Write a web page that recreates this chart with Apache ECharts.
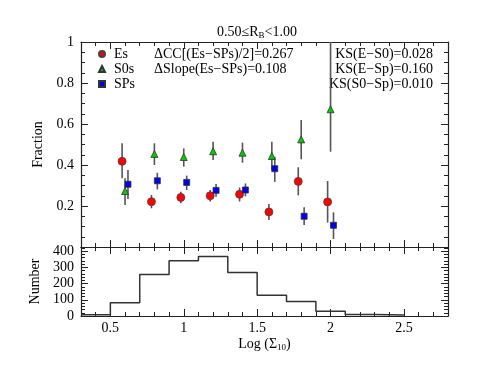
<!DOCTYPE html>
<html>
<head>
<meta charset="utf-8">
<script src="https://cdn.jsdelivr.net/npm/echarts@6/dist/echarts.min.js"></script>
<style>
  html, body { margin: 0; padding: 0; background: #fff; }
  #chart { width: 496px; height: 383px; }
</style>
</head>
<body>
<div id="chart"></div>
<script>
// fraction per density bin (value, lower and upper end of error bar)
const esX = [0.58, 0.78, 0.98, 1.18, 1.38, 1.58, 1.78, 1.98];
const esFrac = [0.418, 0.221, 0.242, 0.250, 0.257, 0.171, 0.320, 0.220];
const esLow = [0.335, 0.189, 0.213, 0.222, 0.222, 0.132, 0.252, 0.119];
const esHigh = [0.506, 0.254, 0.270, 0.278, 0.290, 0.210, 0.389, 0.322];

const s0X = [0.60, 0.80, 1.00, 1.20, 1.40, 1.60, 1.80, 2.00];
const s0Frac = [0.273, 0.454, 0.439, 0.467, 0.460, 0.444, 0.525, 0.672];
const s0Low = [0.205, 0.400, 0.392, 0.424, 0.411, 0.376, 0.428, 0.465];
const s0High = [0.335, 0.506, 0.481, 0.514, 0.509, 0.514, 0.620, 1.000];

const spX = [0.62, 0.82, 1.02, 1.22, 1.42, 1.62, 1.82, 2.02];
const spFrac = [0.306, 0.323, 0.315, 0.276, 0.278, 0.382, 0.150, 0.106];
const spLow = [0.234, 0.281, 0.278, 0.245, 0.247, 0.318, 0.107, 0.039];
const spHigh = [0.376, 0.362, 0.348, 0.307, 0.310, 0.440, 0.194, 0.169];

// histogram of all galaxies
const binEdges = [0.3, 0.5, 0.7, 0.9, 1.1, 1.3, 1.5, 1.7, 1.9, 2.1, 2.3, 2.5];
const binCounts = [8, 82, 255, 340, 366, 268, 128, 90, 29, 10, 6];

// tick labels
const xTicks = [0.5, 1, 1.5, 2, 2.5];
const fracTicks = [0.2, 0.4, 0.6, 0.8, 1];
const numTicks = [0, 100, 200, 300, 400];

const FONT = 'Liberation Serif';
const LINE = '#222';

function xAx(grid, pos, major, labels) {
  let a = {
    type: 'value', gridIndex: grid, position: pos, min: 0.3, max: 2.8,
    splitLine: { show: false },
    axisLine: { show: !major, onZero: false, lineStyle: { color: LINE, width: 1.2 } },
    axisTick: { inside: true, length: major ? 7 : 4, lineStyle: { color: LINE } },
    axisLabel: { show: false }
  };
  if (major) {
    a.axisTick.customValues = xTicks;
    if (labels) {
      a.axisLabel = { show: true, customValues: xTicks, fontFamily: FONT, fontSize: 14, color: '#000', margin: 5 };
      a.name = 'Log (Σ{s|10})';
      a.nameLocation = 'middle';
      a.nameGap = 21;
      a.nameTextStyle = { fontFamily: FONT, fontSize: 14, color: '#000',
        rich: { s: { fontFamily: FONT, fontSize: 9, verticalAlign: 'bottom', padding: [6, 0, 0, 0] } } };
    }
  } else {
    a.interval = 0.1;
  }
  return a;
}

function yAx(grid, pos, major, max, minorStep, ticks, name) {
  let a = {
    type: 'value', gridIndex: grid, position: pos, min: 0, max: max,
    splitLine: { show: false },
    axisLine: { show: !major, onZero: false, lineStyle: { color: LINE, width: 1.2 } },
    axisTick: { inside: true, length: major ? 7 : 4, lineStyle: { color: LINE } },
    axisLabel: { show: false }
  };
  if (major) {
    a.axisTick.customValues = ticks;
    if (name) {
      a.axisLabel = { show: true, customValues: ticks, fontFamily: FONT, fontSize: 14, color: '#000', margin: 7 };
      a.name = name;
      a.nameLocation = 'middle';
      a.nameGap = 36;
      a.nameTextStyle = { fontFamily: FONT, fontSize: 14, color: '#000' };
    }
  } else {
    a.interval = minorStep;
  }
  return a;
}

function errData(xs, ys, lo, hi) {
  return xs.map((x, i) => [x, ys[i], lo[i], hi[i]]);
}

function errSeries(data) {
  return {
    type: 'custom', xAxisIndex: 0, yAxisIndex: 0, silent: true, z: 2,
    clip: true,
    data: data,
    encode: { x: 0, y: [1, 2, 3] },
    renderItem: function (params, api) {
      let x = api.value(0);
      let p1 = api.coord([x, api.value(2)]);
      let p2 = api.coord([x, api.value(3)]);
      return {
        type: 'line',
        shape: { x1: p1[0], y1: p1[1], x2: p2[0], y2: p2[1] },
        style: { stroke: '#555', lineWidth: 1.6 }
      };
    }
  };
}

function pts(xs, ys) {
  return xs.map((x, i) => [x, ys[i]]);
}

let histPts = binCounts.map((c, i) => [binEdges[i], c]);
histPts.push([binEdges[binEdges.length - 1], binCounts[binCounts.length - 1]]);

let chart = echarts.init(document.getElementById('chart'));

let option = {
  animation: false,
  backgroundColor: '#fff',
  title: {
    text: '0.50≤R{s|B}<1.00',
    left: 252, top: 20, textAlign: 'center',
    textStyle: {
      fontFamily: FONT, fontSize: 14, fontWeight: 'normal', color: '#000',
      rich: { s: { fontFamily: FONT, fontSize: 9, verticalAlign: 'bottom', padding: [6, 0, 0, 0] } }
    }
  },
  legend: {
    data: ['Es', 'S0s', 'SPs'],
    orient: 'vertical', left: 93, top: 42,
    itemWidth: 6, itemHeight: 6, itemGap: 1,
    selectedMode: false,
    textStyle: { fontFamily: FONT, fontSize: 14, color: '#000', lineHeight: 14, padding: [0, 0, 0, 4] }
  },
  grid: [
    { left: 81, top: 42, width: 367, height: 205 },
    { left: 81, top: 247, width: 367, height: 69 }
  ],
  xAxis: [
    xAx(0, 'bottom', false), xAx(0, 'bottom', true),
    xAx(0, 'top', false), xAx(0, 'top', true),
    xAx(1, 'bottom', false), xAx(1, 'bottom', true, true),
    xAx(1, 'top', false), xAx(1, 'top', true)
  ],
  yAxis: [
    yAx(0, 'left', false, 1, 0.05), yAx(0, 'left', true, 1, 0, fracTicks, 'Fraction'),
    yAx(0, 'right', false, 1, 0.05), yAx(0, 'right', true, 1, 0, fracTicks),
    yAx(1, 'left', false, 425, 20), yAx(1, 'left', true, 425, 0, numTicks, 'Number'),
    yAx(1, 'right', false, 425, 20), yAx(1, 'right', true, 425, 0, numTicks)
  ],
  graphic: [
    { type: 'text', left: 154, top: 47, style: { text: 'ΔCC[(Es−SPs)/2]=0.267', font: '14px "Liberation Serif"', fill: '#000' } },
    { type: 'text', left: 154, top: 62, style: { text: 'ΔSlope(Es−SPs)=0.108', font: '14px "Liberation Serif"', fill: '#000' } },
    { type: 'text', right: 63, top: 47, style: { text: 'KS(E−S0)=0.028', font: '14px "Liberation Serif"', fill: '#000' } },
    { type: 'text', right: 63, top: 62, style: { text: 'KS(E−Sp)=0.160', font: '14px "Liberation Serif"', fill: '#000' } },
    { type: 'text', right: 63, top: 77, style: { text: 'KS(S0−Sp)=0.010', font: '14px "Liberation Serif"', fill: '#000' } }
  ],
  series: [
    errSeries(errData(esX, esFrac, esLow, esHigh)),
    errSeries(errData(s0X, s0Frac, s0Low, s0High)),
    errSeries(errData(spX, spFrac, spLow, spHigh)),
    {
      name: 'Es', type: 'scatter', xAxisIndex: 0, yAxisIndex: 0, z: 3,
      symbol: 'circle', symbolSize: 8,
      itemStyle: { color: '#ff0000', borderColor: '#444', borderWidth: 0.8, opacity: 1 },
      data: pts(esX, esFrac)
    },
    {
      name: 'S0s', type: 'scatter', xAxisIndex: 0, yAxisIndex: 0, z: 3,
      symbol: 'triangle', symbolSize: 7,
      itemStyle: { color: '#00cc00', borderColor: '#333', borderWidth: 0.8, opacity: 1 },
      data: pts(s0X, s0Frac)
    },
    {
      name: 'SPs', type: 'scatter', xAxisIndex: 0, yAxisIndex: 0, z: 3,
      symbol: 'rect', symbolSize: 6,
      itemStyle: { color: '#0000ee', borderColor: '#333', borderWidth: 0.8, opacity: 1 },
      data: pts(spX, spFrac)
    },
    {
      type: 'line', xAxisIndex: 4, yAxisIndex: 4, step: 'end',
      symbol: 'none', silent: true,
      lineStyle: { color: '#333', width: 1.5 },
      data: histPts
    }
  ]
};

chart.setOption(option);
</script>
</body>
</html>
